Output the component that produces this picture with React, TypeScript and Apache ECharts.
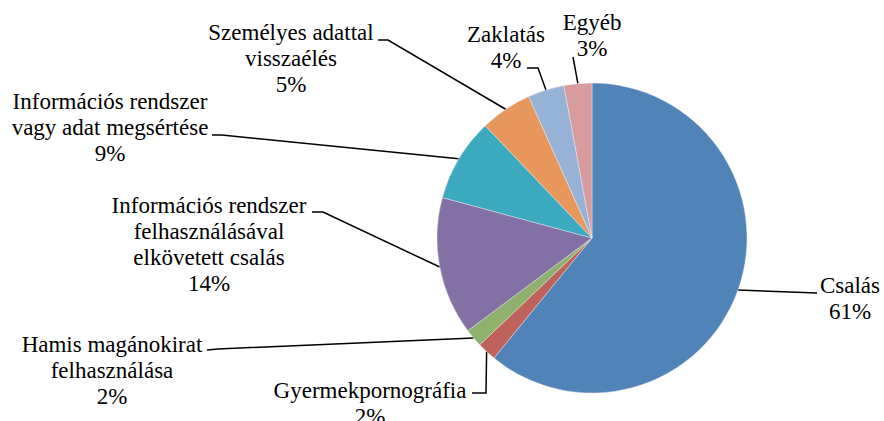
import React, { useEffect, useRef } from "react";
import * as echarts from "echarts";

const categories = [
  "Csalás",
  "Gyermekpornográfia",
  "Hamis magánokirat\nfelhasználása",
  "Információs rendszer\nfelhasználásával\nelkövetett csalás",
  "Információs rendszer\nvagy adat megsértése",
  "Személyes adattal\nvisszaélés",
  "Zaklatás",
  "Egyéb",
];
const values = [60.9, 2.0, 1.9, 14.4, 8.7, 5.4, 3.8, 2.9];
const colors = [
  "#5084B9",
  "#BF625C",
  "#8EB26D",
  "#8370A5",
  "#3BAABF",
  "#E7975B",
  "#97B2D7",
  "#D99C9E",
];

// label block centres and leader-line bends (layout only)
const labelLayouts: { x: number; y: number; pts: number[][] }[] = [
  { x: 850, y: 298, pts: [[817, 293]] },
  { x: 370, y: 403, pts: [[486, 393], [472, 393]] },
  { x: 112, y: 370, pts: [[218, 349], [207, 350]] },
  { x: 209, y: 244, pts: [[323, 212], [312, 212]] },
  { x: 110, y: 127, pts: [[222, 135], [212, 135]] },
  { x: 291, y: 58, pts: [[388, 40], [378, 40]] },
  { x: 506, y: 47, pts: [[538, 68], [527, 68]] },
  { x: 592, y: 35, pts: [[573, 57]] },
];

const FONT = "Liberation Serif";

export default function App() {
  const ref = useRef<HTMLDivElement>(null);
  useEffect(() => {
    if (!ref.current) return;
    const chart = echarts.init(ref.current, null, { renderer: "svg" });
    chart.setOption({
      animation: false,
      backgroundColor: "#ffffff",
      textStyle: { fontFamily: FONT },
      series: [
        {
          type: "pie",
          center: [592, 238],
          radius: 155,
          startAngle: 90,
          clockwise: true,
          avoidLabelOverlap: false,
          data: categories.map((c, i) => ({
            name: c,
            value: values[i],
            itemStyle: { color: colors[i] },
          })),
          itemStyle: { borderColor: "#f2f2f2", borderWidth: 0.4 },
          label: {
            show: true,
            position: "outside",
            formatter: (p: any) => `${p.name}\n${Math.round(p.percent)}%`,
            fontFamily: FONT,
            fontSize: 23,
            lineHeight: 26,
            color: "#000000",
            align: "center",
          },
          labelLine: {
            show: true,
            length: 10,
            length2: 10,
            lineStyle: { color: "#000000", width: 1.5 },
          },
          labelLayout: (params: any) => {
            const l = labelLayouts[params.dataIndex];
            const start = params.labelLinePoints
              ? params.labelLinePoints[0]
              : [l.x, l.y];
            const pts = [start, ...l.pts];
            while (pts.length < 3) pts.push(pts[pts.length - 1]);
            return {
              x: l.x,
              y: l.y,
              align: "center",
              verticalAlign: "middle",
              labelLinePoints: pts,
            };
          },
        },
      ],
    });
    return () => chart.dispose();
  }, []);
  return (
    <div
      ref={ref}
      style={{ position: "absolute", left: 0, top: 0, width: 884, height: 421 }}
    />
  );
}
